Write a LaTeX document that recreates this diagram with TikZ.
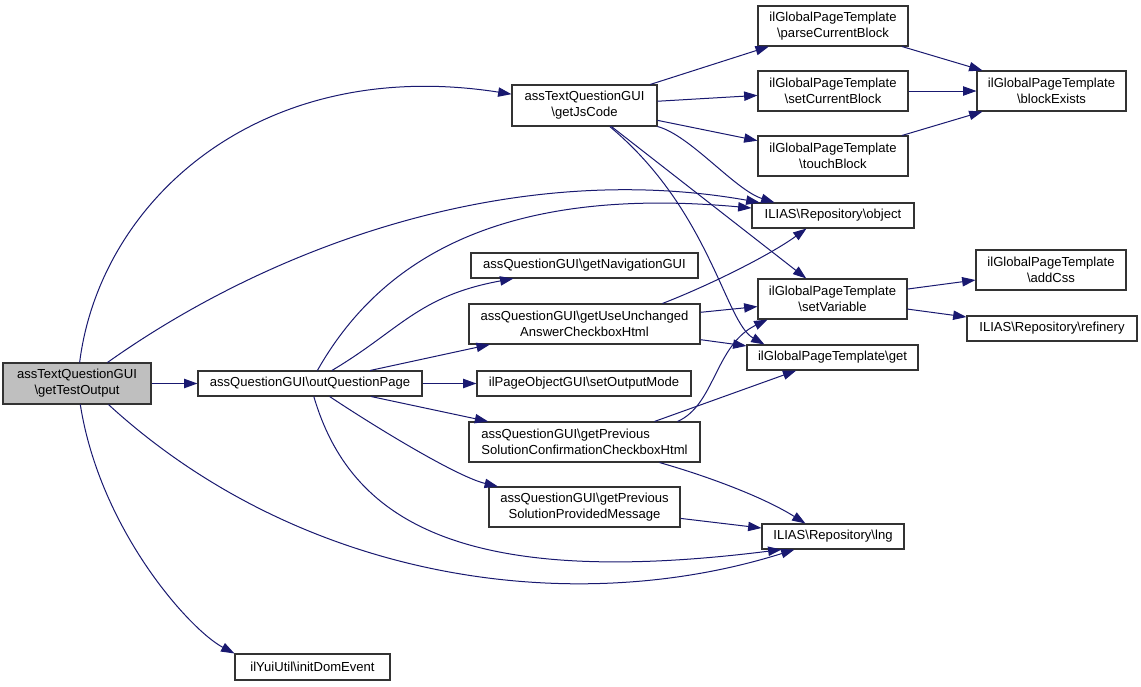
\documentclass[tikz,border=0pt]{standalone}
\usepackage{fontspec}
\setmainfont{Liberation Sans}
\usetikzlibrary{arrows.meta,calc}
\definecolor{edgecol}{HTML}{191970}
\definecolor{boxcol}{HTML}{333333}
\definecolor{rootfill}{HTML}{BFBFBF}
\newcommand{\gnode}[7][]{\node[gbox,#1,minimum width={(#5-#3)*0.75pt},minimum height={(#6-#4)*0.75pt}] (#2) at ({(#3+#5)/2},{(#4+#6)/2}) {#7};}
\begin{document}
\begin{tikzpicture}[x=0.75pt,y=-0.75pt,
  gbox/.style={draw=boxcol,line width=0.8pt,inner sep=0pt,align=center,font=\fontsize{9.8}{12}\selectfont},
  edge/.style={draw=edgecol,line width=0.75pt,-{Triangle[length=10pt,width=7pt]}}]
\useasboundingbox (0,0) rectangle (1141,686);
\fill[white] (0,0) rectangle (1141,686);
% nodes
\gnode[fill=rootfill]{A}{3}{363}{151}{404}{assTextQuestionGUI\\\textbackslash getTestOutput}
\gnode{B}{512}{85}{657}{126}{assTextQuestionGUI\\\textbackslash getJsCode}
\gnode{C}{198}{371}{422}{396}{assQuestionGUI\textbackslash outQuestionPage}
\gnode{D}{758}{6}{908}{46}{ilGlobalPageTemplate\\\textbackslash parseCurrentBlock}
\gnode{E}{758}{71}{908}{111}{ilGlobalPageTemplate\\\textbackslash setCurrentBlock}
\gnode{F}{758}{136}{908}{176}{ilGlobalPageTemplate\\\textbackslash touchBlock}
\gnode{G}{977}{71}{1126}{111}{ilGlobalPageTemplate\\\textbackslash blockExists}
\gnode{H}{752}{203}{914}{228}{ILIAS\textbackslash Repository\textbackslash object}
\gnode{I}{471}{253}{698}{278}{assQuestionGUI\textbackslash getNavigationGUI}
\gnode{J}{469}{304}{700}{344}{assQuestionGUI\textbackslash getUseUnchanged\\AnswerCheckboxHtml}
\gnode{K}{758}{279}{907}{319}{ilGlobalPageTemplate\\\textbackslash setVariable}
\gnode{L}{976}{250}{1126}{290}{ilGlobalPageTemplate\\\textbackslash addCss}
\gnode{M}{967}{316}{1137}{341}{ILIAS\textbackslash Repository\textbackslash refinery}
\gnode{N}{747}{345}{918}{370}{ilGlobalPageTemplate\textbackslash get}
\gnode{O}{477}{371}{691}{396}{ilPageObjectGUI\textbackslash setOutputMode}
\gnode[align=left]{P}{469}{422}{700}{462}{assQuestionGUI\textbackslash getPrevious\\SolutionConfirmationCheckboxHtml}
\gnode{Q}{489}{487}{680}{527}{assQuestionGUI\textbackslash getPrevious\\SolutionProvidedMessage}
\gnode{R}{762}{524}{904}{549}{ILIAS\textbackslash Repository\textbackslash lng}
\gnode{S}{235}{654}{390}{680}{ilYuiUtil\textbackslash initDomEvent}
% edges from A
\draw[edge] (A) -- (C);
\draw[edge] (A) .. controls (100,200) and (260,55) .. (B);
\draw[edge] ($(A.north west)+(105,0)$) .. controls (280,240) and (520,160) .. (H);
\draw[edge] ($(A.south west)+(106,0)$) .. controls (300,580) and (570,620) .. ($(R.south west)+(33,0)$);
\draw[edge] (A) .. controls (100,530) and (190,630) .. (S.north west);
% edges from C
\draw[edge] (C) .. controls (380,260) and (500,185) .. (H);
\draw[edge] (C) .. controls (400,330) and (418,296) .. (I);
\draw[edge] (C) -- (J);
\draw[edge] (C) -- (O);
\draw[edge] (C) -- (P);
\draw[edge] (C) .. controls (380,430) and (458,477) .. (Q);
\draw[edge] (C) .. controls (350,520) and (460,590) .. ($(R.south west)+(20,0)$);
% edges from B
\draw[edge] (B) -- (D);
\draw[edge] (B) -- (E);
\draw[edge] (B) -- (F);
\draw[edge] (B.south east) .. controls (690,135) and (735,190) .. ($(H.north west)+(23,0)$);
\draw[edge] (B) -- (K);
\draw[edge] (B) .. controls (710,210) and (725,322) .. ($(N.north west)+(18,0)$);
% edges from J
\draw[edge] ($(J.north west)+(194,0)$) .. controls (710,285) and (770,255) .. ($(H.south west)+(55,0)$);
\draw[edge] (J) -- (K);
\draw[edge] (J) -- (N);
% edges from P
\draw[edge] ($(P.north west)+(209,0)$) .. controls (715,405) and (715,345) .. ($(K.south west)+(10,0)$);
\draw[edge] ($(P.north west)+(186,0)$) -- (N);
\draw[edge] ($(P.south west)+(191,0)$) .. controls (700,474) and (760,495) .. ($(R.north west)+(44,0)$);
% edge from Q
\draw[edge] (Q) -- (R);
% block edges
\draw[edge] (D) -- (G);
\draw[edge] (E) -- (G);
\draw[edge] (F) -- (G);
% setVariable edges
\draw[edge] (K) -- (L);
\draw[edge] (K) -- (M);
\end{tikzpicture}
\end{document}
